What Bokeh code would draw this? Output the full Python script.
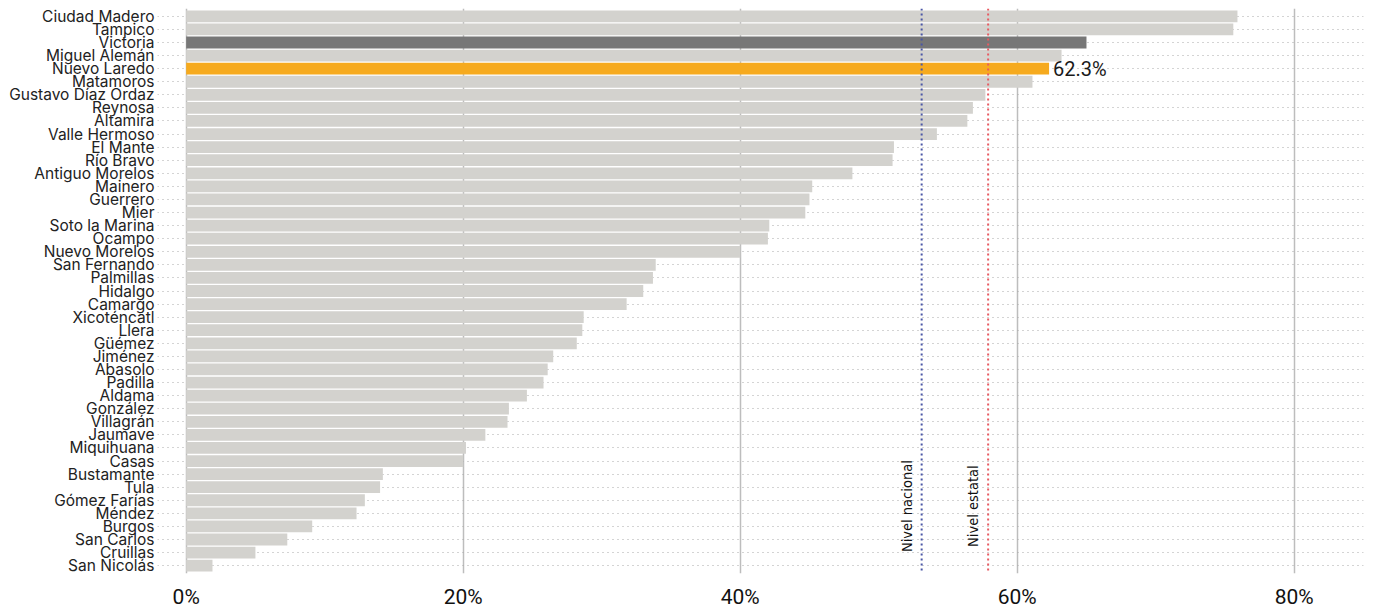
from bokeh.plotting import figure
from bokeh.models import FactorRange, Range1d, FixedTicker, Span, ColumnDataSource
from bokeh.core.properties import value
from bokeh.embed import file_html
from bokeh.resources import INLINE

municipios = ["Ciudad Madero", "Tampico", "Victoria", "Miguel Alemán", "Nuevo Laredo",
              "Matamoros", "Gustavo Díaz Ordaz", "Reynosa", "Altamira", "Valle Hermoso",
              "El Mante", "Río Bravo", "Antiguo Morelos", "Mainero", "Guerrero", "Mier",
              "Soto la Marina", "Ocampo", "Nuevo Morelos", "San Fernando", "Palmillas",
              "Hidalgo", "Camargo", "Xicoténcatl", "Llera", "Güémez", "Jiménez", "Abasolo",
              "Padilla", "Aldama", "González", "Villagrán", "Jaumave", "Miquihuana", "Casas",
              "Bustamante", "Tula", "Gómez Farías", "Méndez", "Burgos", "San Carlos",
              "Cruillas", "San Nicolás"]
porcentajes = [75.9, 75.6, 65.0, 63.2, 62.3, 61.1, 57.7, 56.8, 56.4, 54.2,
               51.1, 51.0, 48.1, 45.2, 45.0, 44.7, 42.1, 42.0, 40.0, 33.9, 33.7,
               33.0, 31.8, 28.7, 28.6, 28.2, 26.5, 26.1, 25.8, 24.6, 23.3, 23.2,
               21.6, 20.2, 20.0, 14.2, 14.0, 12.9, 12.3, 9.1, 7.3, 5.0, 1.9]
nivel_nacional = 53.1
nivel_estatal = 57.9
x_ticks = [0, 20, 40, 60, 80]
x_tick_labels = ["0%", "20%", "40%", "60%", "80%"]
destacado = "Nuevo Laredo"
referencia = "Victoria"

GRIS = "#d3d2ce"
colores = []
for m in municipios:
    if m == destacado:
        colores.append("#f6aa1e")
    elif m == referencia:
        colores.append("#777777")
    else:
        colores.append(GRIS)

src = ColumnDataSource(dict(m=municipios, v=porcentajes, c=colores))

p = figure(width=1377, height=611, output_backend="svg", toolbar_location=None,
           y_range=FactorRange(factors=list(reversed(municipios)), range_padding=0.1,
                               range_padding_units="absolute"),
           x_range=Range1d(-2.07, 85.0),
           min_border_left=157, min_border_right=14, min_border_top=8, min_border_bottom=33)
p.outline_line_color = None
p.background_fill_color = "white"

p.hbar(y="m", left=0, right="v", height=0.9, color="c", line_color=None, source=src)

# reference lines
p.add_layout(Span(location=nivel_nacional, dimension="height", line_color="#4a56a6",
                  line_dash="2 3", line_width=2))
p.add_layout(Span(location=nivel_estatal, dimension="height", line_color="#e85a62",
                  line_dash="2 3", line_width=2))

p.text(x=[nivel_nacional, nivel_estatal], y=[("Gómez Farías", -0.45), ("Gómez Farías", -0.45)],
       text=["Nivel nacional", "Nivel estatal"], angle=1.5708, x_offset=-7,
       text_align="center", text_baseline="bottom", text_font_size="14.5px",
       text_font=value("'Liberation Sans Narrow', 'DejaVu Sans Condensed', Roboto"),
       text_color="#111111")

# value label
idx = municipios.index(destacado)
p.text(x=[porcentajes[idx]], y=[destacado], text=[f"{porcentajes[idx]}%"], x_offset=4,
       text_baseline="middle", text_align="left", text_font_size="20px",
       text_font=value("Roboto"), text_color="#1a1a1a")

# axes
p.xaxis.ticker = FixedTicker(ticks=x_ticks)
p.xaxis.major_label_overrides = {t: l for t, l in zip(x_ticks, x_tick_labels)}
p.xaxis.axis_line_color = None
p.xaxis.major_tick_line_color = None
p.xaxis.minor_tick_line_color = None
p.xaxis.major_label_text_font = "Roboto"
p.xaxis.major_label_text_font_size = "21px"
p.xaxis.major_label_text_color = "#111111"
p.xaxis.major_label_standoff = 5

p.yaxis.axis_line_color = None
p.yaxis.major_tick_line_color = None
p.yaxis.major_label_text_font = "Inter"
p.yaxis.major_label_text_font_size = "15.5px"
p.yaxis.major_label_text_color = "#222222"
p.yaxis.major_label_standoff = -3

# grids
p.xgrid.ticker = FixedTicker(ticks=x_ticks)
p.xgrid.grid_line_color = "#bdbdbd"
p.xgrid.grid_line_width = 1.5
p.ygrid.grid_line_color = "#a8a8a8"
p.ygrid.grid_line_dash = "1 4"
p.ygrid.grid_line_width = 1

open("out.html", "w").write(file_html(p, INLINE))
